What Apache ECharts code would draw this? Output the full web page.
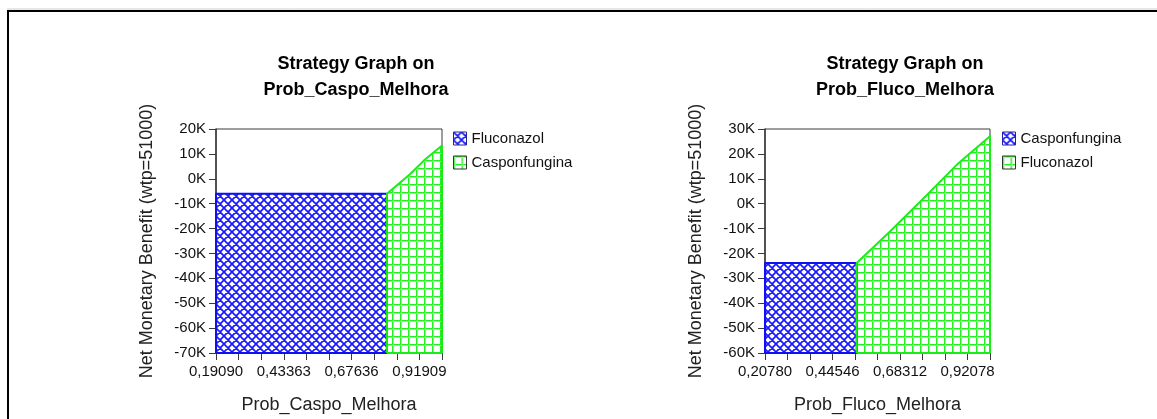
<!DOCTYPE html>
<html>
<head>
<meta charset="utf-8">
<script src="https://cdn.jsdelivr.net/npm/echarts@6/dist/echarts.min.js"></script>
<style>
  html, body { margin: 0; padding: 0; background: #fff; }
  #chart { width: 1157px; height: 419px; }
</style>
</head>
<body>
<div id="chart"></div>
<script>
// ---- Sensitivity on Prob_Caspo_Melhora ----
const caspoProbRange = [0.19090, 1.0];
const caspoNmbRange = [-70000, 20000];
const caspoTickLabels = [0.19090, 0.43363, 0.67636, 0.91909];
const caspoFlucoX = [0.19090, 0.8028];          // Fluconazol optimal
const caspoFlucoNMB = [-6000, -6000];
const caspoCaspoX = [0.8028, 0.8864, 0.934, 1.0]; // Casponfungina optimal
const caspoCaspoNMB = [-6000, 1900, 7200, 13400];

// ---- Sensitivity on Prob_Fluco_Melhora ----
const flucoProbRange = [0.20780, 1.0];
const flucoNmbRange = [-60000, 30000];
const flucoTickLabels = [0.20780, 0.44546, 0.68312, 0.92078];
const flucoCaspoX = [0.20780, 0.5307];          // Casponfungina optimal
const flucoCaspoNMB = [-23800, -23800];
const flucoFlucoX = [0.5307, 0.6479, 0.7771, 0.8828, 1.0]; // Fluconazol optimal
const flucoFlucoNMB = [-23800, -11200, 3400, 15600, 27100];

const nmbStep = 10000;

const FONT = "'Liberation Sans', Arial, sans-serif";
const BLUE = '#1010f0';
const GREEN = '#19ec19';
const AXIS = '#3a3a3a';

// hatch fills
function makeTile(draw) {
  const c = document.createElement('canvas');
  c.width = 8; c.height = 8;
  const g = c.getContext('2d');
  g.fillStyle = '#ffffff';
  g.fillRect(0, 0, 8, 8);
  draw(g);
  return c;
}
const diagCross = makeTile(g => {
  g.strokeStyle = '#1a1aff';
  g.lineWidth = 1.7;
  g.beginPath();
  for (const dx of [-8, 0, 8]) {
    g.moveTo(dx - 1, -1); g.lineTo(dx + 9, 9);
    g.moveTo(dx - 1, 9); g.lineTo(dx + 9, -1);
  }
  g.stroke();
});
const squareGrid = makeTile(g => {
  g.fillStyle = '#22ee22';
  g.fillRect(0, 0, 1, 8);
  g.fillRect(0, 0, 8, 1);
  g.fillStyle = '#9cf59c';
  g.fillRect(1, 0, 1, 8);
  g.fillRect(0, 1, 8, 1);
});
const bluePattern = { image: diagCross, repeat: 'repeat' };
const greenPattern = { image: squareGrid, repeat: 'repeat' };

// closed outline of the region under a strategy's curve
function region(xs, ys, floor) {
  const pts = [[xs[0], floor]];
  xs.forEach((x, i) => pts.push([x, ys[i]]));
  pts.push([xs[xs.length - 1], floor]);
  pts.push([xs[0], floor]);
  return pts;
}

// tick marks: three per labelled interval, up to the axis end
function tickMarks(labels, end) {
  const step = (labels[1] - labels[0]) / 3;
  const out = [];
  for (let k = 0; ; k++) {
    const v = labels[0] + k * step;
    if (v > end + step * 0.01) break;
    out.push(Math.min(v, end));
  }
  return out;
}

const probFmt = v => v.toFixed(5).replace('.', ',');
const nmbFmt = v => (v / 1000) + 'K';

function xAxisFor(gridIndex, name, range, labels) {
  return {
    type: 'value', gridIndex, name, min: range[0], max: range[1],
    nameLocation: 'middle', nameGap: 43,
    nameTextStyle: { fontFamily: FONT, fontSize: 18, color: '#222' },
    axisLine: { show: true, onZero: false, lineStyle: { color: AXIS, width: 1.5 } },
    axisTick: { show: true, length: 7, customValues: tickMarks(labels, range[1]), lineStyle: { color: AXIS } },
    axisLabel: { customValues: labels, formatter: probFmt, margin: 11, fontFamily: FONT, fontSize: 15, color: '#111' },
    splitLine: { show: false }
  };
}
function yAxisFor(gridIndex, range) {
  return {
    type: 'value', gridIndex, name: 'Net Monetary Benefit (wtp=51000)',
    min: range[0], max: range[1], interval: nmbStep,
    nameLocation: 'middle', nameGap: 60, nameRotate: 90,
    nameTextStyle: { fontFamily: FONT, fontSize: 18, color: '#222' },
    axisLine: { show: true, onZero: false, lineStyle: { color: AXIS, width: 1.5 } },
    axisTick: { show: true, length: 7, lineStyle: { color: AXIS } },
    axisLabel: { formatter: nmbFmt, margin: 10, fontFamily: FONT, fontSize: 15, color: '#111' },
    splitLine: { show: false }
  };
}

function areaSeries(name, axisIndex, xs, ys, floor, color, pattern) {
  return {
    type: 'line', name, xAxisIndex: axisIndex, yAxisIndex: axisIndex,
    data: region(xs, ys, floor),
    symbol: 'none', showSymbol: false, clip: false,
    lineStyle: { color, width: 2 },
    itemStyle: { color },
    areaStyle: { color: pattern, opacity: 1, origin: 'start' },
    emphasis: { disabled: true }
  };
}

function legendFor(left, items) {
  return {
    orient: 'vertical', left, top: 131, padding: 0,
    itemWidth: 13, itemHeight: 13, itemGap: 9,
    icon: 'rect', selectedMode: false,
    textStyle: { fontFamily: FONT, fontSize: 15, color: '#111' },
    data: items
  };
}

function titleText(x, line1, line2) {
  return [
    { type: 'text', x, y: 64, style: { text: line1, align: 'center', verticalAlign: 'middle', font: 'bold 18px ' + FONT, fill: '#000' } },
    { type: 'text', x, y: 90, style: { text: line2, align: 'center', verticalAlign: 'middle', font: 'bold 18px ' + FONT, fill: '#000' } }
  ];
}

const chart = echarts.init(document.getElementById('chart'));
chart.setOption({
  animation: false,
  backgroundColor: '#fff',
  grid: [
    { left: 216, top: 129, width: 226, height: 228, show: true, borderColor: AXIS, borderWidth: 1, backgroundColor: 'transparent' },
    { left: 765, top: 129, width: 225, height: 228, show: true, borderColor: AXIS, borderWidth: 1, backgroundColor: 'transparent' }
  ],
  xAxis: [
    xAxisFor(0, 'Prob_Caspo_Melhora', caspoProbRange, caspoTickLabels),
    xAxisFor(1, 'Prob_Fluco_Melhora', flucoProbRange, flucoTickLabels)
  ],
  yAxis: [
    yAxisFor(0, caspoNmbRange),
    yAxisFor(1, flucoNmbRange)
  ],
  legend: [
    legendFor(453, [
      { name: 'Fluconazol', itemStyle: { color: bluePattern, borderColor: '#2020a0', borderWidth: 1 } },
      { name: 'Casponfungina', itemStyle: { color: greenPattern, borderColor: '#333', borderWidth: 1 } }
    ]),
    legendFor(1002, [
      { name: 'Casponfungina', itemStyle: { color: bluePattern, borderColor: '#2020a0', borderWidth: 1 } },
      { name: 'Fluconazol', itemStyle: { color: greenPattern, borderColor: '#333', borderWidth: 1 } }
    ])
  ],
  series: [
    areaSeries('Fluconazol', 0, caspoFlucoX, caspoFlucoNMB, caspoNmbRange[0], BLUE, bluePattern),
    areaSeries('Casponfungina', 0, caspoCaspoX, caspoCaspoNMB, caspoNmbRange[0], GREEN, greenPattern),
    areaSeries('Casponfungina', 1, flucoCaspoX, flucoCaspoNMB, flucoNmbRange[0], BLUE, bluePattern),
    areaSeries('Fluconazol', 1, flucoFlucoX, flucoFlucoNMB, flucoNmbRange[0], GREEN, greenPattern)
  ],
  graphic: [
    // page frame
    { type: 'line', shape: { x1: 7, y1: 9, x2: 1157, y2: 9 }, style: { stroke: '#cfcfcf', lineWidth: 1 }, silent: true },
    { type: 'line', shape: { x1: 7, y1: 11, x2: 1157, y2: 11 }, style: { stroke: '#000', lineWidth: 2 }, silent: true },
    { type: 'line', shape: { x1: 8, y1: 10, x2: 8, y2: 419 }, style: { stroke: '#000', lineWidth: 2 }, silent: true },
    ...titleText(356, 'Strategy Graph on', 'Prob_Caspo_Melhora'),
    ...titleText(905, 'Strategy Graph on', 'Prob_Fluco_Melhora')
  ]
});
</script>
</body>
</html>
